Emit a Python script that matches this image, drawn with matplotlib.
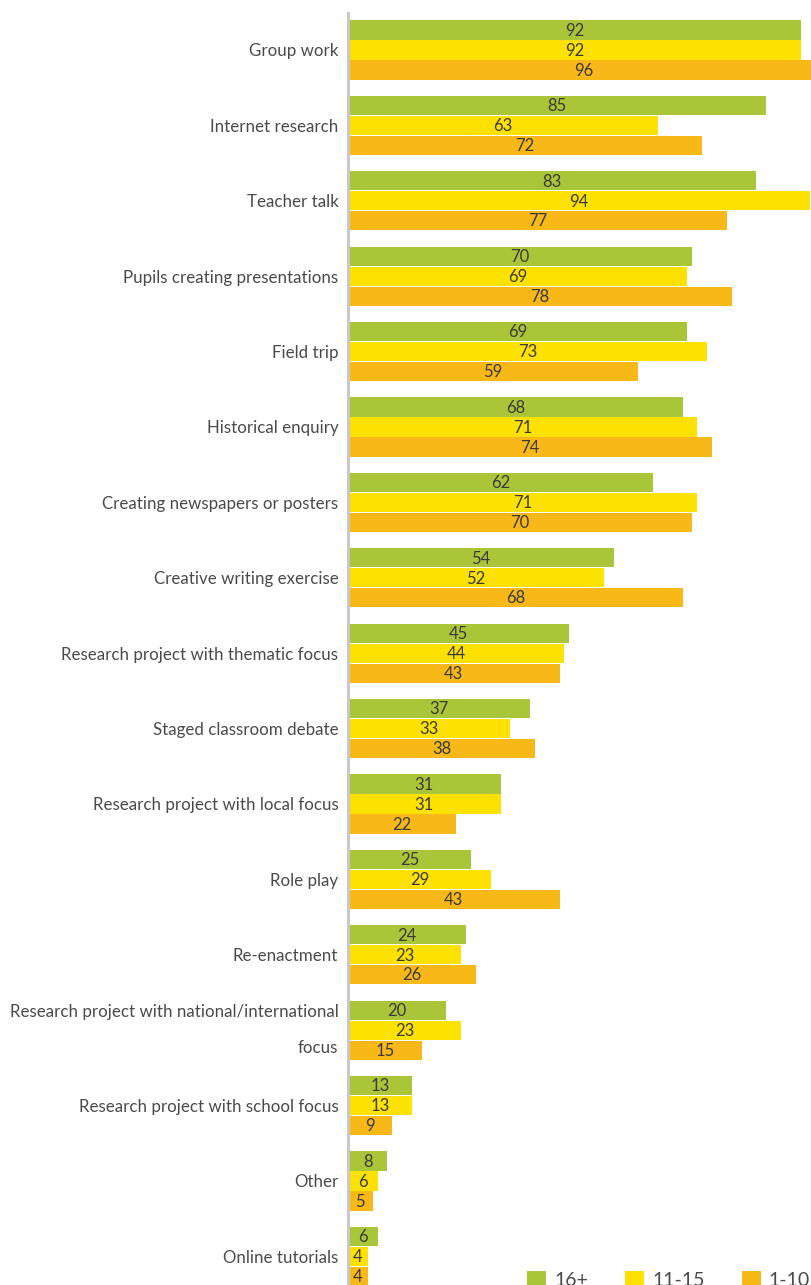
import matplotlib
matplotlib.use("Agg")
import matplotlib.pyplot as plt
import numpy as np

plt.rcParams['font.family'] = ['Lato', 'DejaVu Sans']

categories = ["Group work", "Internet research", "Teacher talk",
              "Pupils creating presentations", "Field trip", "Historical enquiry",
              "Creating newspapers or posters", "Creative writing exercise",
              "Research project with thematic focus", "Staged classroom debate",
              "Research project with local focus", "Role play", "Re-enactment",
              "Research project with national/international\nfocus",
              "Research project with school focus", "Other", "Online tutorials"]
age_16 = [92, 85, 83, 70, 69, 68, 62, 54, 45, 37, 31, 25, 24, 20, 13, 8, 6]
age_11_15 = [92, 63, 94, 69, 73, 71, 71, 52, 44, 33, 31, 29, 23, 23, 13, 6, 4]
age_1_10 = [96, 72, 77, 78, 59, 74, 70, 68, 43, 38, 22, 43, 26, 15, 9, 5, 4]
series_names = ["16+", "11-15", "1-10"]
colors = ["#A9C638", "#FDE100", "#F7B818"]

W, H = 811, 1285
fig = plt.figure(figsize=(W / 100, H / 100), dpi=100)
ax = fig.add_axes([348 / W, 0, 1 - 348 / W, 1 - 13 / H])

y = np.arange(len(categories))
off = 0.265
bh = 0.255
for k, (vals, name, c) in enumerate(zip([age_16, age_11_15, age_1_10], series_names, colors)):
    pos = y + (k - 1) * off
    bars = ax.barh(pos, vals, height=bh, color=c, label=name)
    for b, v in zip(bars, vals):
        ax.text(b.get_width() / 2, b.get_y() + b.get_height() / 2 + 0.01, str(v),
                ha='center', va='center', fontsize=12, color='#3a3a3a')

ax.set_xlim(0, 463 / 4.92)
ax.set_ylim(16.38, -0.49)
ax.set_yticks(y)
labels = ax.set_yticklabels(categories, fontsize=12.2, color='#4a4a4a', linespacing=2.5)
for lab in labels:
    if "\n" in lab.get_text():
        lab.set_verticalalignment('center')
ax.tick_params(axis='y', length=0, pad=7)
ax.set_xticks([])
for s in ['top', 'right', 'bottom']:
    ax.spines[s].set_visible(False)
ax.spines['left'].set_color('#c8c8c8')
ax.spines['left'].set_linewidth(2.2)

fig.legend(loc='center left', bbox_to_anchor=(527 / W, 1 - 1280 / H), ncol=3,
           frameon=False, handlelength=1.0, handleheight=1.0,
           handletextpad=0.4, columnspacing=1.9, labelcolor='#4a4a4a',
           borderaxespad=0, borderpad=0, prop={'size': 14})

fig.savefig("out.png", dpi=100)
